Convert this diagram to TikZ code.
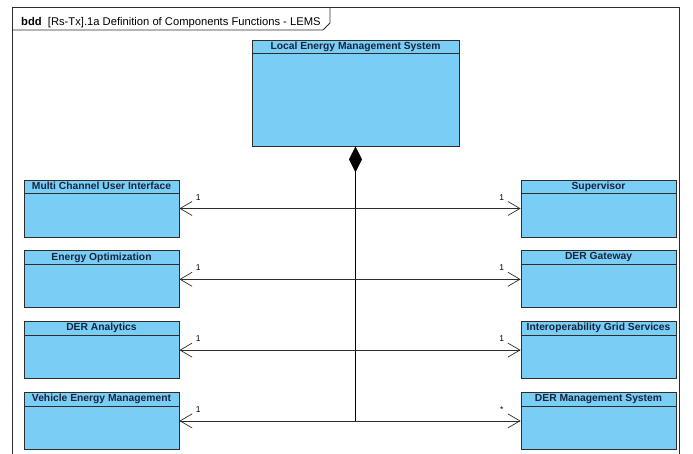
\documentclass[tikz,border=0pt]{standalone}
\usepackage{fontspec}
\setmainfont{Liberation Sans}
\usetikzlibrary{arrows.meta,positioning,calc}
\definecolor{blockfill}{RGB}{122,206,245}
\definecolor{headtext}{RGB}{22,36,64}
\definecolor{edge}{RGB}{45,45,45}

\begin{document}
\begin{tikzpicture}[
    x=1pt, y=-1pt,
    node distance=13pt,
    block/.style={rectangle, draw=edge, line width=0.8pt, fill=blockfill, minimum width=155pt, minimum height=57pt, inner sep=0pt},
    blockhead/.style={below, font=\fontsize{10.3}{11}\selectfont\bfseries, text=headtext, inner sep=2pt},
    assoc/.style={draw=edge, line width=0.7pt, {Straight Barb[length=12pt,width=14pt]}-{Straight Barb[length=12pt,width=14pt]}},
    compose/.style={draw=black, line width=1pt, {Diamond[length=26pt,width=13pt]}-},
    mult/.style={font=\fontsize{8.5}{9}\selectfont, inner sep=1pt}
]
\useasboundingbox (0,0) rectangle (693,454);

% diagram frame and its tab
\draw[edge, line width=1pt] (12,454) -- (12,8) -- (679,8) -- (679,454);
\draw[edge, line width=0.8pt] (12,30) -- (323,30) -- (330,23) -- (330,8);
\node[anchor=base west, font=\fontsize{11.2}{12}\selectfont, inner sep=0pt] (title) at (21,25.5) {\textbf{bdd}\ \ [Rs-Tx].1a Definition of Components Functions - LEMS};

% blocks
\node[block, minimum width=207pt, minimum height=106pt, label={[blockhead]north:Local Energy Management System}] (lems) at (355.5,93) {};

\node[block, label={[blockhead]north:Multi Channel User Interface}] (mcui) at (101.5,208.5) {};
\node[block, below=of mcui, label={[blockhead]north:Energy Optimization}] (eo) {};
\node[block, below=of eo, label={[blockhead]north:DER Analytics}] (da) {};
\node[block, below=of da, label={[blockhead]north:Vehicle Energy Management}] (vem) {};

\node[block, label={[blockhead]north:Supervisor}] (sup) at (598.5,208.5) {};
\node[block, below=of sup, label={[blockhead]north:DER Gateway}] (gw) {};
\node[block, below=of gw, label={[blockhead]north:Interoperability Grid Services}] (igs) {};
\node[block, below=of igs, label={[blockhead]north:DER Management System}] (dms) {};

% name compartments
\foreach \b in {lems,mcui,eo,da,vem,sup,gw,igs,dms}
  \draw[edge, line width=0.8pt] ($(\b.north west)+(0,14)$) -- ($(\b.north east)+(0,14)$);

% composition and associations
\draw[compose] (lems.south) -- (lems.south |- vem.east);
\draw[assoc] (mcui.east) -- node[mult, pos=0.055, above=7pt] {1} node[mult, pos=0.945, above=7pt] {1} (sup.west);
\draw[assoc] (eo.east) -- node[mult, pos=0.055, above=7pt] {1} node[mult, pos=0.945, above=7pt] {1} (gw.west);
\draw[assoc] (da.east) -- node[mult, pos=0.055, above=7pt] {1} node[mult, pos=0.945, above=7pt] {1} (igs.west);
\draw[assoc] (vem.east) -- node[mult, pos=0.055, above=7pt] {1} node[mult, pos=0.945, above=7pt] {*} (dms.west);

\end{tikzpicture}
\end{document}
